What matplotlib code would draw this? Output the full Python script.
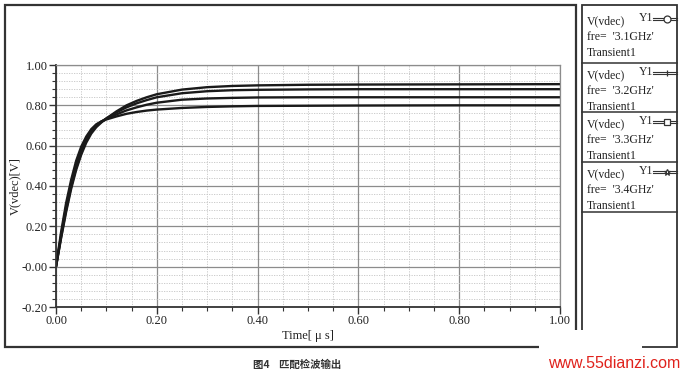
import matplotlib
matplotlib.use('Agg')
import matplotlib.pyplot as plt
from matplotlib.lines import Line2D
from matplotlib.patches import Rectangle
from matplotlib.ticker import FixedLocator, FixedFormatter, MultipleLocator

# time in microseconds
t = [0.00, 0.01, 0.02, 0.03, 0.04, 0.05, 0.06, 0.07, 0.08, 0.09, 0.10,
     0.12, 0.14, 0.16, 0.18, 0.20, 0.25, 0.30, 0.35, 0.40, 0.50, 0.60,
     0.80, 1.00]

# V(vdec) for each frequency
v_31 = [0.000, 0.140, 0.270, 0.385, 0.480, 0.555, 0.615, 0.660, 0.692, 0.715, 0.735,
        0.770, 0.800, 0.822, 0.840, 0.855, 0.878, 0.890, 0.896, 0.899, 0.902, 0.903,
        0.904, 0.905]
v_32 = [0.000, 0.145, 0.280, 0.395, 0.490, 0.565, 0.625, 0.668, 0.698, 0.718, 0.735,
        0.765, 0.790, 0.810, 0.826, 0.840, 0.860, 0.870, 0.875, 0.877, 0.879, 0.880,
        0.880, 0.880]
v_33 = [0.000, 0.155, 0.295, 0.410, 0.505, 0.580, 0.635, 0.675, 0.703, 0.720, 0.733,
        0.755, 0.775, 0.790, 0.803, 0.813, 0.828, 0.834, 0.837, 0.839, 0.840, 0.840,
        0.840, 0.840]
v_34 = [0.000, 0.170, 0.315, 0.430, 0.525, 0.595, 0.645, 0.682, 0.706, 0.720, 0.730,
        0.745, 0.758, 0.767, 0.774, 0.779, 0.787, 0.792, 0.795, 0.797, 0.798, 0.799,
        0.800, 0.800]

series = [v_31, v_32, v_33, v_34]
freqs = ['3.1GHz', '3.2GHz', '3.3GHz', '3.4GHz']
markers = ['o', '|', 's', '*']

yticks = [-0.20, 0.00, 0.20, 0.40, 0.60, 0.80, 1.00]
ylabels = ['-0.20', '-0.00', '0.20', '0.40', '0.60', '0.80', '1.00']
xticks = [0.00, 0.20, 0.40, 0.60, 0.80, 1.00]
xlabels = ['0.00', '0.20', '0.40', '0.60', '0.80', '1.00']

plt.rcParams['font.family'] = ['Liberation Serif', 'DejaVu Serif']

W, H = 684, 373
fig = plt.figure(figsize=(W / 100, H / 100), dpi=100)
ax = fig.add_axes([56 / W, 1 - 307 / H, 504 / W, 242 / H])

for v in series:
    ax.plot(t, v, color='#1a1a1a', lw=1.7, solid_capstyle='butt')

ax.set_xlim(0, 1)
ax.set_ylim(-0.2, 1.0)
ax.yaxis.set_major_locator(FixedLocator(yticks))
ax.yaxis.set_major_formatter(FixedFormatter(ylabels))
ax.xaxis.set_major_locator(FixedLocator(xticks))
ax.xaxis.set_major_formatter(FixedFormatter(xlabels))
ax.xaxis.set_minor_locator(MultipleLocator(0.05))
ax.yaxis.set_minor_locator(MultipleLocator(0.04))

ax.grid(which='major', color='#8c8c8c', lw=0.9)
ax.grid(which='minor', color='#c4c4c4', lw=0.6, ls=(0, (1.5, 1.5)))
ax.set_axisbelow(True)

for s in ['top', 'right']:
    ax.spines[s].set_color('#8c8c8c')
    ax.spines[s].set_linewidth(0.9)
for s in ['left', 'bottom']:
    ax.spines[s].set_color('#333333')
    ax.spines[s].set_linewidth(1.3)

ax.tick_params(which='major', length=5, width=1, color='#333333',
               labelsize=9, labelcolor='#222222', pad=1)
ax.tick_params(which='minor', length=3, width=0.8, color='#333333')

ax.set_xlabel('Time[ \u03bc s]', fontsize=9, color='#222222', labelpad=2)
ax.set_ylabel('V(vdec)[V]', fontsize=9, color='#222222')
ax.yaxis.set_label_coords((21 - 56) / 504, 0.5)

# outer frame of the chart
fig.patches.append(Rectangle((5 / W, 1 - 347 / H), 571 / W, 342 / H,
                             transform=fig.transFigure, fill=False,
                             ec='#333333', lw=1.6))

# legend panel on the right
px0, px1 = 582, 677
fig.patches.append(Rectangle((px0 / W, 1 - 347 / H), (px1 - px0) / W, 342 / H,
                             transform=fig.transFigure, fill=False,
                             ec='#333333', lw=1.3))
dividers = [63, 112, 162, 212]
for yd in dividers:
    fig.lines.append(Line2D([px0 / W, px1 / W], [1 - yd / H, 1 - yd / H],
                            transform=fig.transFigure, color='#333333', lw=1.1))

# first text row of each legend box
row_y = [21, 75, 124, 174]
for yr, f, m in zip(row_y, freqs, markers):
    fig.text(587 / W, 1 - yr / H, 'V(vdec)', fontsize=8.5,
             color='#222222', va='center')
    fig.text(639 / W, 1 - (yr - 3) / H, 'Y1', fontsize=8.5,
             color='#222222', va='center')
    fig.text(587 / W, 1 - (yr + 16) / H, "fre=  '" + f + "'", fontsize=8.5,
             color='#222222', va='center')
    fig.text(587 / W, 1 - (yr + 32) / H, 'Transient1', fontsize=8.5,
             color='#222222', va='center')
    for dy in (-1.3, 1.3):
        yl = 1 - (yr - 2 + dy) / H
        fig.lines.append(Line2D([653 / W, 677 / W], [yl, yl],
                                transform=fig.transFigure, color='#333333', lw=0.8))
    fig.lines.append(Line2D([667 / W], [1 - (yr - 2) / H], transform=fig.transFigure,
                            marker=m, ms=5, mfc='white', mec='#333333', mew=0.9,
                            ls='none'))

# white patch over the frame corner (under the site mark)
fig.patches.append(Rectangle((539 / W, 1 - 352 / H), 103 / W, 22 / H,
                             transform=fig.transFigure, fc='white', ec='none'))

fig.text(297 / W, 1 - 365 / H, '图4    匹配检波输出', fontsize=7.5,
         family=['Noto Sans CJK SC', 'DejaVu Sans'], color='#333333',
         ha='center', va='center', weight='bold')
fig.text(680 / W, 1 - 364 / H, 'www.55dianzi.com', fontsize=11.5,
         family=['Liberation Sans Narrow', 'Liberation Sans'], color='#e0221c',
         ha='right', va='center')

fig.savefig('out.png', dpi=100)
